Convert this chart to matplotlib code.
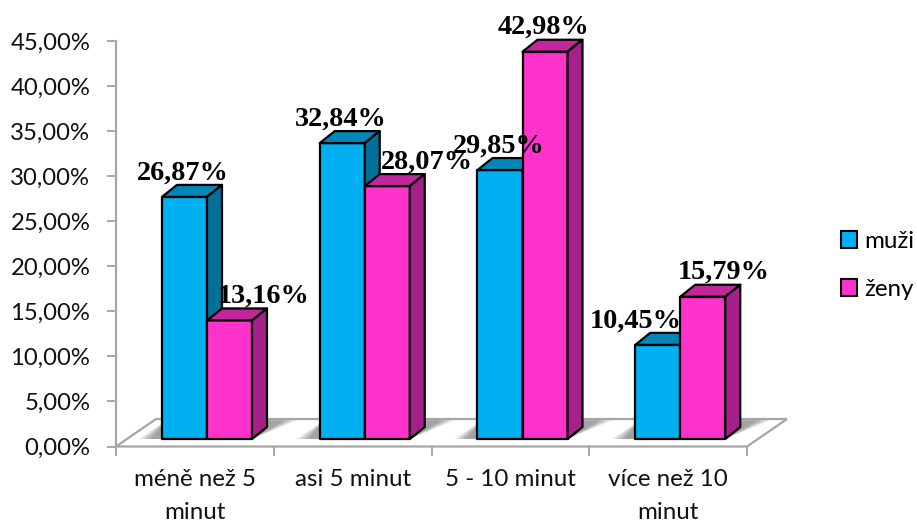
import matplotlib
matplotlib.use('Agg')
import matplotlib.pyplot as plt
from matplotlib.patches import Patch

categories = ['méně než 5\nminut', 'asi 5 minut', '5 - 10 minut', 'více než 10\nminut']
muzi = [26.87, 32.84, 29.85, 10.45]
zeny = [13.16, 28.07, 42.98, 15.79]
y_ticks = [0, 5, 10, 15, 20, 25, 30, 35, 40, 45]

# fake 3d settings, in axis units
lift = 0.83
bar_w = 0.2853
bar_start = 0.2916
depth_x = 0.095
depth_y = 1.33
floor_x = 0.2536
floor_y = 3.05
group_gap = 1.0

# label shifts from the bar centre (x units, percent units)
muzi_shift = [-0.01, -0.01, -0.01, -0.14]
zeny_shift = [0.215, 0.25, -0.01, 0.13]
label_up = 1.95

GREY = '#a6a6a6'

fig = plt.figure(figsize=(9.17, 5.24), dpi=100)
ax = fig.add_axes([116 / 917, 1 - 446.5 / 524, 631 / 917, 405.5 / 524])
ax.set_xlim(0, 4)
ax.set_ylim(0, 45)


def draw_bar(x, val, front, top, side):
    y0 = lift
    y1 = lift + val
    ax.fill([x, x + bar_w, x + bar_w, x], [y0, y0, y1, y1], color=front, ec='black', lw=1.6,
            joinstyle='round', clip_on=False, zorder=5)
    ax.fill([x, x + bar_w, x + bar_w + depth_x, x + depth_x], [y1, y1, y1 + depth_y, y1 + depth_y],
            color=top, ec='black', lw=1.6, joinstyle='round', clip_on=False, zorder=5)
    ax.fill([x + bar_w, x + bar_w + depth_x, x + bar_w + depth_x, x + bar_w],
            [y0, y0 + depth_y, y1 + depth_y, y1], color=side, ec='black', lw=1.6,
            joinstyle='round', clip_on=False, zorder=5)


def draw_shadow(x):
    # soft shadow on the floor, stacked see through layers
    w = 2 * bar_w
    for k in range(6):
        grow = 0.016 * k
        ax.fill([x - 0.07 - grow, x + w + 0.0, x + w + depth_x + 0.11 + grow, x + 0.03],
                [lift, lift, lift + depth_y + 0.75, lift + depth_y + 0.75],
                color='black', alpha=0.07, lw=0, clip_on=False, zorder=2)


# floor
ax.plot([0, floor_x, 4 + floor_x, 4, 0], [0, floor_y, floor_y, 0, 0], color=GREY, lw=1.6,
        clip_on=False, zorder=1, solid_joinstyle='miter')

for i in range(len(categories)):
    x = i * group_gap + bar_start
    draw_shadow(x)
    draw_bar(x, muzi[i], '#00b0f0', '#0086b8', '#00709b')
    draw_bar(x + bar_w, zeny[i], '#ff33cc', '#c2269b', '#a6208a')

for i in range(len(categories)):
    x = i * group_gap + bar_start
    ax.text(x + bar_w / 2 + muzi_shift[i], lift + muzi[i] + label_up, f'{muzi[i]:.2f}%'.replace('.', ','),
            ha='center', va='baseline', family='Liberation Serif', weight='bold', fontsize=20.3,
            clip_on=False, zorder=8)
    ax.text(x + bar_w * 1.5 + zeny_shift[i], lift + zeny[i] + label_up, f'{zeny[i]:.2f}%'.replace('.', ','),
            ha='center', va='baseline', family='Liberation Serif', weight='bold', fontsize=20.3,
            clip_on=False, zorder=8)

for name in ['top', 'right', 'bottom']:
    ax.spines[name].set_visible(False)
ax.spines['left'].set_color(GREY)
ax.spines['left'].set_linewidth(1.6)
ax.patch.set_visible(False)

ax.set_yticks(y_ticks)
ax.set_yticklabels([f'{v:.2f}%'.replace('.', ',') for v in y_ticks], family='Lato', fontsize=17.2, color='#111111')
ax.tick_params(axis='y', length=6.5, width=1.4, color=GREY, pad=12)

ax.set_xticks([0, 1, 2, 3, 4])
ax.set_xticklabels([])
ax.tick_params(axis='x', length=6.5, width=1.4, color=GREY)
ax.set_xticks([0.5, 1.5, 2.5, 3.5], minor=True)
ax.set_xticklabels(categories, minor=True, family='Lato', fontsize=17.4, color='#111111', linespacing=1.7)
ax.tick_params(axis='x', which='minor', length=0, pad=16)

handles = [Patch(facecolor='#00b0f0', edgecolor='black', lw=1.5, label='muži'),
           Patch(facecolor='#ff33cc', edgecolor='black', lw=1.5, label='ženy')]
fig.legend(handles=handles, loc='upper left', bbox_to_anchor=(841 / 917, 1 - 231 / 524), frameon=False,
           prop={'family': 'Lato', 'size': 17.4}, handlelength=0.68, handleheight=0.68, handletextpad=0.27,
           labelspacing=1.12, borderpad=0, borderaxespad=0)

fig.savefig('out.png', dpi=100)
